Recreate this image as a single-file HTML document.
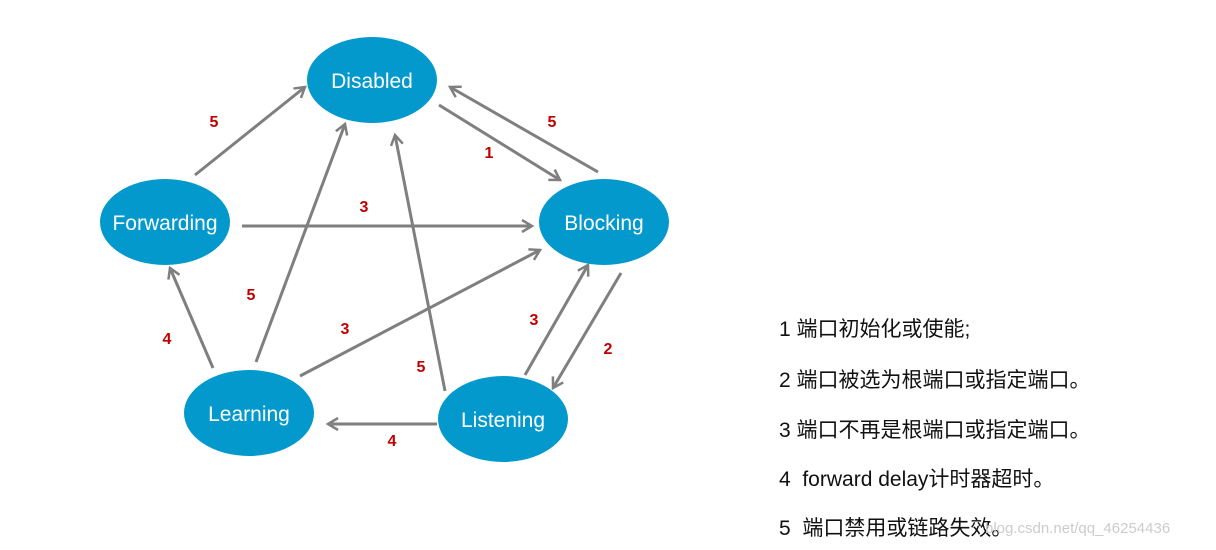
<!DOCTYPE html>
<html><head><meta charset="utf-8"><style>
body{margin:0;background:#fff;width:1216px;height:550px;overflow:hidden;position:relative;font-family:"Liberation Sans","Noto Sans CJK SC",sans-serif}
.l{position:absolute;left:779px;font-size:21px;color:#111;white-space:pre}
</style></head><body>
<svg width="1216" height="550" style="position:absolute;left:0;top:0">
<defs><marker id="a" markerWidth="14" markerHeight="14" refX="11" refY="7" orient="auto" markerUnits="userSpaceOnUse"><path d="M1,1 L11,7 L1,13" fill="none" stroke="#7f7f7f" stroke-width="2.5"/></marker></defs>
<g stroke="#7f7f7f" stroke-width="3" marker-end="url(#a)" fill="none">
<line x1="195" y1="175" x2="305" y2="87"/>
<line x1="439" y1="105" x2="560" y2="180"/>
<line x1="598" y1="172" x2="450" y2="87"/>
<line x1="242" y1="226" x2="532" y2="226"/>
<line x1="213" y1="368" x2="170" y2="268"/>
<line x1="256" y1="362" x2="345" y2="124"/>
<line x1="300" y1="376" x2="540" y2="250"/>
<line x1="445" y1="391" x2="395" y2="135"/>
<line x1="525" y1="375" x2="588" y2="265"/>
<line x1="621" y1="273" x2="553" y2="388"/>
<line x1="437" y1="424" x2="328" y2="424"/>
</g>
<g fill="#0399cc">
<ellipse cx="372" cy="80" rx="65" ry="43"/>
<ellipse cx="165" cy="222" rx="65" ry="43"/>
<ellipse cx="604" cy="222" rx="65" ry="43"/>
<ellipse cx="249" cy="413" rx="65" ry="43"/>
<ellipse cx="503" cy="419" rx="65" ry="43"/>
</g>
<g fill="#fff" font-size="21" text-anchor="middle" font-family="Liberation Sans, sans-serif">
<text x="372" y="88">Disabled</text>
<text x="165" y="230">Forwarding</text>
<text x="604" y="230">Blocking</text>
<text x="249" y="421">Learning</text>
<text x="503" y="427">Listening</text>
</g>
<g fill="#c00000" font-size="16" font-weight="bold" text-anchor="middle" font-family="Liberation Sans, sans-serif">
<text x="214" y="127">5</text><text x="489" y="158">1</text><text x="552" y="127">5</text>
<text x="364" y="212">3</text><text x="251" y="300">5</text><text x="167" y="344">4</text>
<text x="345" y="334">3</text><text x="421" y="372">5</text><text x="534" y="325">3</text>
<text x="608" y="354">2</text><text x="392" y="446">4</text>
</g>
</svg>
<div class="l" style="top:313px">1 端口初始化或使能;</div>
<div class="l" style="top:364px">2 端口被选为根端口或指定端口。</div>
<div class="l" style="top:414px">3 端口不再是根端口或指定端口。</div>
<div class="l" style="top:463px">4  forward delay计时器超时。</div>
<div class="l" style="top:512px">5  端口禁用或链路失效。</div>
<div style="position:absolute;left:985px;top:520px;font-size:15px;color:#ccc">blog.csdn.net/qq_46254436</div>
</body></html>
